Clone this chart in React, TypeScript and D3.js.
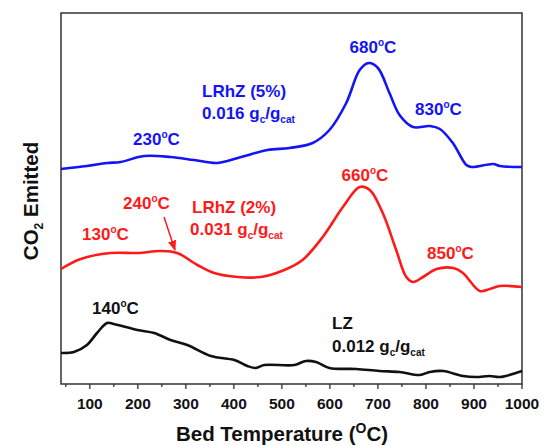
import React from "react";
import * as d3 from "d3";

// Temperatures (°C) and signal (arbitrary units)
const blueT = [40, 94, 136, 164, 213, 268, 317, 366, 415, 470, 516, 564, 599, 634, 662, 681, 700, 724, 745, 773, 808, 829, 856, 884, 895, 940, 954, 1000];
const blueV = [215, 218, 221, 222, 228, 227, 224, 221, 227, 234, 236, 241, 254, 281, 314, 321, 316, 291, 269, 257, 258, 255, 241, 219, 217, 220, 218, 217];

const redT = [40, 81, 143, 199, 248, 282, 324, 359, 408, 456, 505, 543, 585, 627, 662, 683, 710, 738, 759, 773, 794, 822, 857, 877, 912, 933, 954, 1000];
const redV = [115, 125, 131, 131, 133, 131, 119, 111, 107, 107, 114, 124, 147, 177, 197, 194, 171, 134, 107, 102, 107, 115, 116, 111, 93, 95, 98, 97];

const blackT = [40, 67, 94, 115, 136, 150, 199, 234, 268, 303, 352, 401, 428, 446, 463, 526, 550, 571, 599, 655, 703, 745, 787, 808, 836, 877, 905, 933, 954, 1000];
const blackV = [31, 32, 39, 51, 61, 60, 54, 51, 44, 39, 28, 24, 18, 16, 19, 19, 23, 22, 16, 15, 13, 12, 9, 12, 13, 8, 7, 8, 7, 13];

const xTicks = [100, 200, 300, 400, 500, 600, 700, 800, 900, 1000];
const xMinor = [50, 150, 250, 350, 450, 550, 650, 750, 850, 950];

const W = 544, H = 446;
const L = 61, R = 522, T = 13, B = 384;
const BLUE = "#1414f5";
const RED = "#ff1a1a";
const FONT = "'Liberation Sans', Arial, Helvetica, sans-serif";

export default function App() {
  const x = d3.scaleLinear().domain([40, 1000]).range([L, R]);
  const y = d3.scaleLinear().domain([0, 371]).range([B, T]);
  const line = d3.line<[number, number]>().x(d => x(d[0])).y(d => y(d[1])).curve(d3.curveCatmullRom.alpha(0.5));
  const mk = (ts: number[], vs: number[]) => line(ts.map((t, i) => [t, vs[i]] as [number, number])) || "";

  const deg = (txt: string) => (
    <>{txt}<tspan fontSize={10} dy={-7}>o</tspan><tspan dy={7}>C</tspan></>
  );
  const gg = (num: string) => (
    <>{num} g<tspan fontSize={10} dy={4}>c</tspan><tspan dy={-4}>/g</tspan><tspan fontSize={10} dy={4}>cat</tspan></>
  );

  return (
    <svg width={W} height={H} style={{ position: "absolute", left: 0, top: 0, background: "#fff" }} fontFamily={FONT} fontWeight="bold">
      <defs>
        <marker id="ah" viewBox="0 0 10 10" refX="9" refY="5" markerWidth="7" markerHeight="7" orient="auto">
          <path d="M0,1 L10,5 L0,9 z" fill={RED} />
        </marker>
      </defs>
      <rect x={L} y={T} width={R - L} height={B - T} fill="none" stroke="#333" strokeWidth={1.5} />
      {xTicks.map(t => (
        <g key={t}>
          <line x1={x(t)} x2={x(t)} y1={B} y2={B + 5} stroke="#333" strokeWidth={1.3} />
          <text x={x(t)} y={409} textAnchor="middle" fontSize={15.5} fill="#111">{t}</text>
        </g>
      ))}
      {xMinor.map(t => (
        <line key={t} x1={x(t)} x2={x(t)} y1={B} y2={B + 3} stroke="#333" strokeWidth={1.3} />
      ))}
      <text x={282} y={441} textAnchor="middle" fontSize={20.5} fill="#111">
        Bed Temperature (<tspan fontSize={14} dy={-8}>O</tspan><tspan dy={8}>C)</tspan>
      </text>
      <text transform="translate(38,201) rotate(-90)" textAnchor="middle" fontSize={20.5} fill="#111">
        CO<tspan fontSize={12} dy={5}>2</tspan><tspan dy={-5}> Emitted</tspan>
      </text>

      <path d={mk(blueT, blueV)} fill="none" stroke={BLUE} strokeWidth={2.6} />
      <path d={mk(redT, redV)} fill="none" stroke={RED} strokeWidth={2.6} />
      <path d={mk(blackT, blackV)} fill="none" stroke="#111" strokeWidth={2.6} />

      <g fill={BLUE} fontSize={17}>
        <text x={373} y={53} textAnchor="middle">{deg("680")}</text>
        <text x={202} y={97}>LRhZ (5%)</text>
        <text x={202} y={119}>{gg("0.016")}</text>
        <text x={133} y={145}>{deg("230")}</text>
        <text x={415} y={115}>{deg("830")}</text>
      </g>
      <g fill={RED} fontSize={17}>
        <text x={365} y={181} textAnchor="middle">{deg("660")}</text>
        <text x={123} y={209}>{deg("240")}</text>
        <text x={192} y={213}>LRhZ (2%)</text>
        <text x={190} y={235}>{gg("0.031")}</text>
        <text x={82} y={240}>{deg("130")}</text>
        <text x={427} y={259}>{deg("850")}</text>
        <line x1={164} y1={217} x2={175} y2={250} stroke={RED} strokeWidth={1.5} markerEnd="url(#ah)" />
      </g>
      <g fill="#111" fontSize={17}>
        <text x={92} y={314}>{deg("140")}</text>
        <text x={332} y={329}>LZ</text>
        <text x={332} y={352}>{gg("0.012")}</text>
      </g>
    </svg>
  );
}
